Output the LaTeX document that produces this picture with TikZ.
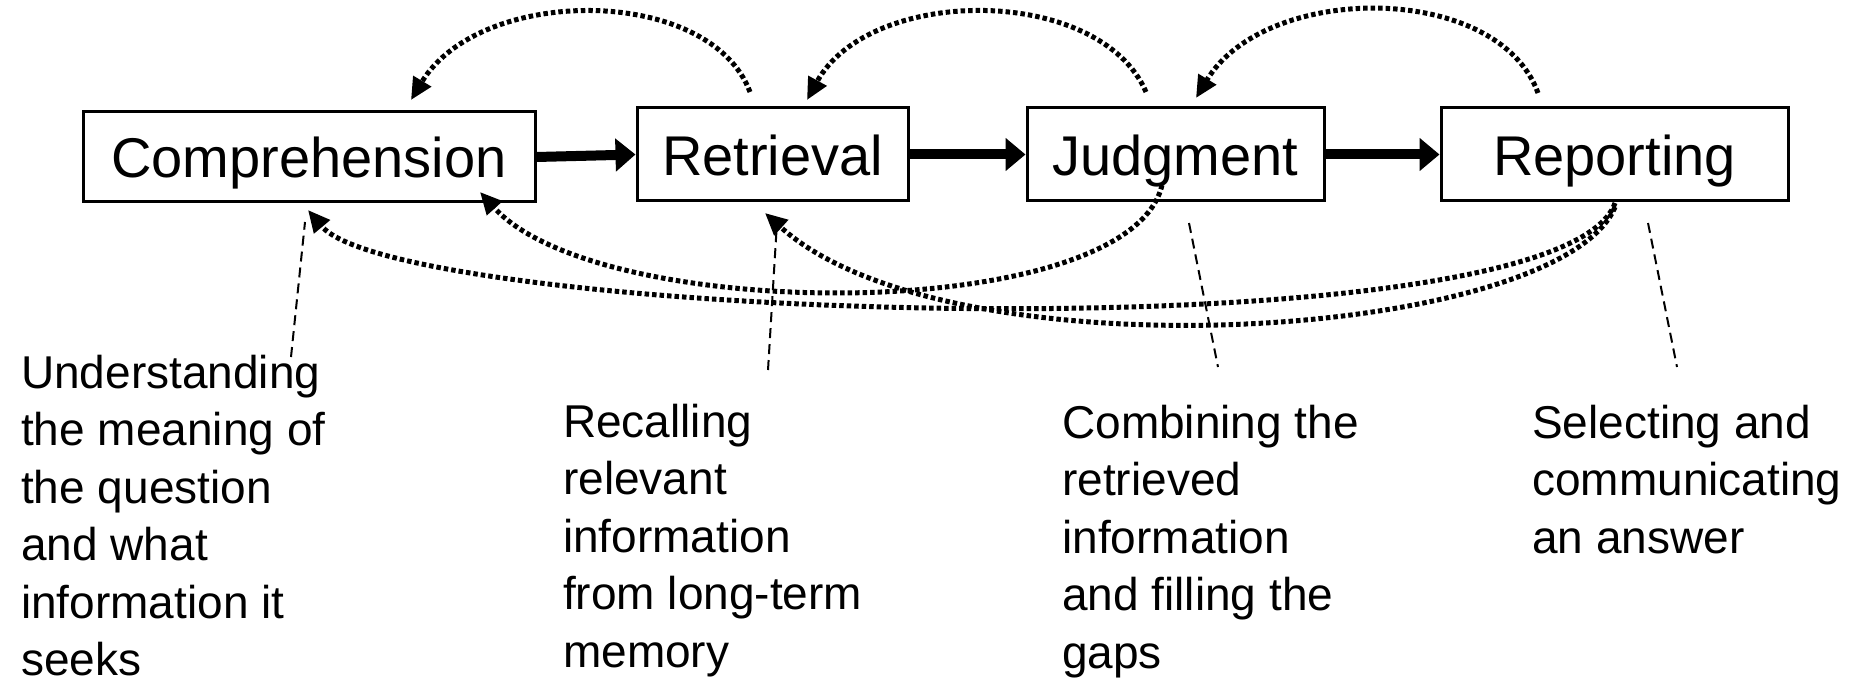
\documentclass[tikz,border=0pt]{standalone}
\usepackage{fontspec}
\setmainfont{Liberation Sans}
\usetikzlibrary{arrows.meta}
\begin{document}
\begin{tikzpicture}[x=1pt,y=-1pt,
  box/.style={draw,line width=3pt,inner sep=0pt,text height=42pt,text depth=0pt,font=\fontsize{56}{60}\selectfont},
  flow/.style={line width=10pt,-{Triangle[length=20pt,width=32pt]}},
  fb/.style={line width=5pt,dash pattern=on 4.5pt off 3pt,-{Triangle[length=22pt,width=20pt]}},
  lead/.style={line width=2pt,dash pattern=on 10pt off 6pt},
  lbl/.style={anchor=base west,align=left,inner sep=0pt,font=\fontsize{46}{57.5}\selectfont}]
\path[use as bounding box] (0,0) rectangle (1860,679);
% process boxes
\node[box,minimum width=452pt,minimum height=90pt] (comp) at (309,157) {Comprehension};
\node[box,minimum width=271pt,minimum height=93pt] (retr) at (772.5,154.5) {Retrieval};
\node[box,minimum width=297pt,minimum height=93pt] (judg) at (1175.5,154.5) {Judgment};
\node[box,minimum width=347pt,minimum height=93pt] (rept) at (1614.5,154.5) {Reporting};
% main flow
\draw[flow] (comp.east) -- (retr.west);
\draw[flow] (retr.east) -- (judg.west);
\draw[flow] (judg.east) -- (rept.west);
% feedback end points
\coordinate (t1s) at (750,92);   \coordinate (t1e) at (411,100);
\coordinate (t2s) at (1146,92);  \coordinate (t2e) at (807,100);
\coordinate (t3s) at (1538,93);  \coordinate (t3e) at (1196,98);
\coordinate (bAs) at (1162,185); \coordinate (bAe) at (480,192);
\coordinate (bBs) at (1615,203); \coordinate (bBe) at (308,210);
\coordinate (bCs) at (1615,207); \coordinate (bCe) at (765,213);
% top feedback arcs
\draw[fb] (t1s) .. controls (710,-15) and (480,-15) .. (t1e);
\draw[fb] (t2s) .. controls (1100,-15) and (870,-15) .. (t2e);
\draw[fb] (t3s) .. controls (1498,-18) and (1266,-18) .. (t3e);
% bottom feedback curves
\draw[fb] (bAs) .. controls (1130,325) and (600,325) .. (bAe);
\draw[fb] (bBs) .. controls (1560,360) and (400,320) .. (bBe);
\draw[fb] (bCs) .. controls (1560,340) and (950,380) .. (bCe);
% leaders
\coordinate (d1a) at (291,357); \coordinate (d1b) at (305,222);
\coordinate (d2a) at (768,370); \coordinate (d2b) at (777,222);
\coordinate (d3a) at (1189,223); \coordinate (d3b) at (1218,367);
\coordinate (d4a) at (1648,223); \coordinate (d4b) at (1677,367);
\draw[lead] (d1a) -- (d1b);
\draw[lead] (d2a) -- (d2b);
\draw[lead] (d3a) -- (d3b);
\draw[lead] (d4a) -- (d4b);
% labels (anchored at the baseline of their last line)
\node[lbl] (l1) at (21,675.5) {Understanding\\the meaning of\\the question\\and what\\information it\\seeks};
\node[lbl] (l2) at (563,667) {Recalling\\relevant\\information\\from long-term\\memory};
\node[lbl] (l3) at (1062,668) {Combining the\\retrieved\\information\\and filling the\\gaps};
\node[lbl] (l4) at (1532,553) {Selecting and\\communicating\\an answer};
\end{tikzpicture}
\end{document}
